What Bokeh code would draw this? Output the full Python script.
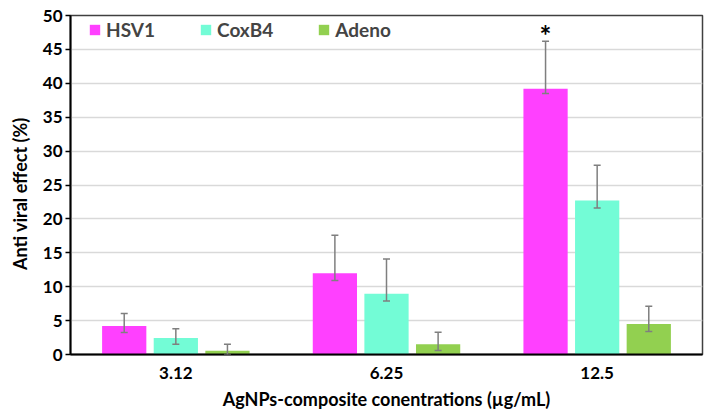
from bokeh.plotting import figure
from bokeh.models import (FactorRange, Range1d, ColumnDataSource, Whisker, TeeHead,
                          Legend, LegendItem, SingleIntervalTicker)
from bokeh.transform import dodge
from bokeh.core.properties import value
from bokeh.embed import file_html
from bokeh.resources import INLINE

concentrations = ["3.12", "6.25", "12.5"]
series = ["HSV1", "CoxB4", "Adeno"]
hsv1 = [4.2, 12.0, 39.2]
hsv1_lo = [3.25, 10.9, 38.5]
hsv1_hi = [6.05, 17.6, 46.2]
coxb4 = [2.45, 8.95, 22.7]
coxb4_lo = [1.5, 7.9, 21.6]
coxb4_hi = [3.8, 14.1, 27.9]
adeno = [0.55, 1.5, 4.5]
adeno_lo = [0.0, 0.6, 3.4]
adeno_hi = [1.5, 3.3, 7.1]
significance = ["", "", "*"]  # marks over the HSV1 bars
colors = ["#FF40FF", "#73FCD6", "#92D050"]

FONT = "Lato"

p = figure(width=704, height=414, x_range=FactorRange(*concentrations, range_padding=0),
           y_range=Range1d(0, 50), output_backend="svg", toolbar_location=None,
           min_border_left=70, min_border_right=2, min_border_top=15, min_border_bottom=60)

offsets = [-0.245, 0.0, 0.245]
values = [hsv1, coxb4, adeno]
lows = [hsv1_lo, coxb4_lo, adeno_lo]
highs = [hsv1_hi, coxb4_hi, adeno_hi]

items = []
for name, off, vals, lo, hi, col in zip(series, offsets, values, lows, highs, colors):
    src = ColumnDataSource(dict(cat=concentrations, val=vals, lo=lo, hi=hi, sig=significance))
    r = p.vbar(x=dodge("cat", off, range=p.x_range), top="val", width=0.21, source=src,
               fill_color=col, line_color=None)
    items.append(LegendItem(label=name, renderers=[r]))
    w = Whisker(base=dodge("cat", off, range=p.x_range), lower="lo", upper="hi", source=src,
                line_color="#7f7f7f", line_width=1.5, level="annotation",
                upper_head=TeeHead(size=7, line_color="#7f7f7f", line_width=1.5),
                lower_head=TeeHead(size=7, line_color="#7f7f7f", line_width=1.5))
    p.add_layout(w)
    if name == "HSV1":
        p.text(x=dodge("cat", off, range=p.x_range), y="hi", text="sig", source=src,
               text_align="center", text_baseline="middle", y_offset=-6,
               text_font=value(FONT), text_font_style="bold", text_font_size="28px",
               text_color="black")

legend = Legend(items=items, orientation="horizontal", location=(18, 313),
                padding=2, margin=0, spacing=44, glyph_width=13, glyph_height=13,
                label_standoff=5, label_text_font=FONT, label_text_font_style="bold",
                label_text_font_size="19px", border_line_color=None,
                background_fill_alpha=0)
p.add_layout(legend)

p.yaxis.ticker = SingleIntervalTicker(interval=5)
p.yaxis.minor_tick_line_color = None
p.yaxis.major_tick_out = 5
p.yaxis.major_tick_in = 0
p.yaxis.major_tick_line_color = "black"
p.yaxis.major_tick_line_width = 1.5
p.xaxis.major_tick_line_color = None
p.xaxis.minor_tick_line_color = None
for ax in (p.xaxis, p.yaxis):
    ax.axis_line_color = "black"
    ax.axis_line_width = 2
    ax.major_label_text_font = FONT
    ax.major_label_text_font_style = "bold"
    ax.major_label_text_font_size = "17px"
    ax.major_label_text_color = "black"
    ax.axis_label_text_font = FONT
    ax.axis_label_text_font_style = "bold"
    ax.axis_label_text_font_size = "18px"
    ax.axis_label_text_color = "black"
p.xaxis.major_label_standoff = 6
p.xaxis.axis_label_standoff = 6
p.yaxis.major_label_standoff = 3
p.yaxis.axis_label_standoff = 9
p.xaxis.axis_label = "AgNPs-composite conentrations (µg/mL)"
p.yaxis.axis_label = "Anti viral effect (%)" + "\u00a0" * 4

p.xgrid.grid_line_color = None
p.ygrid.grid_line_color = "#d9d9d9"
p.ygrid.grid_line_width = 1.5
p.outline_line_color = "#404040"
p.outline_line_width = 1.5
p.background_fill_color = "white"
p.border_fill_color = "white"

open("out.html", "w").write(file_html(p, INLINE))
